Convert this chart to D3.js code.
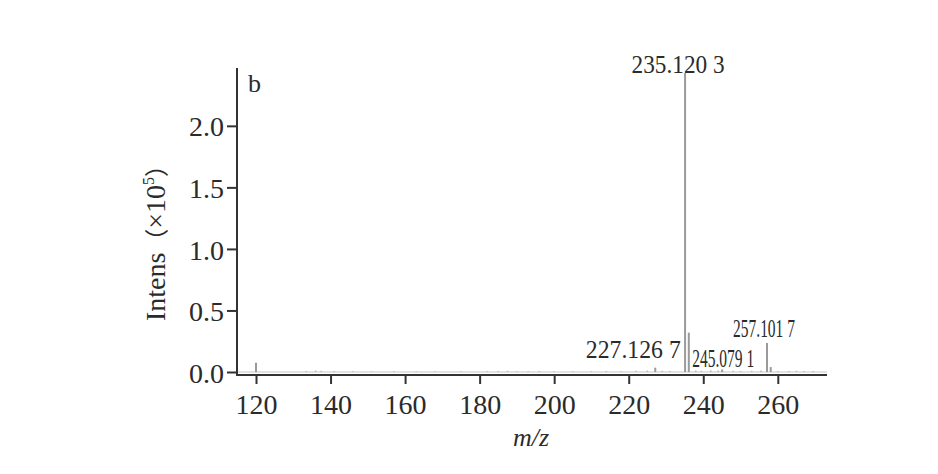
<!DOCTYPE html>
<html><head><meta charset="utf-8">
<script src="https://cdn.jsdelivr.net/npm/d3@7"></script>
<style>
body{margin:0;background:#fff;}
text{font-family:"Liberation Serif","Times New Roman",serif;fill:#2b2b2b;}
</style></head>
<body><svg id="c" width="938" height="474"></svg>
<script>
// data
const peakMz = [120.0, 227.1267, 235.1203, 236.12, 245.0791, 257.1017, 258.1];
const peakIntensity = [0.075, 0.035, 2.43, 0.32, 0.02, 0.235, 0.04];
const noiseMz = [133.5, 136, 137.5, 141, 146, 151, 157, 163, 168, 175, 182, 185, 187.5, 190, 193, 196, 200, 205, 210, 214, 218, 222, 225, 229, 231, 238, 239.5, 242, 244, 248, 250, 253, 255.5, 260, 263, 265, 267, 269.5];
const noiseIntensity = [0.008, 0.012, 0.01, 0.008, 0.006, 0.005, 0.006, 0.005, 0.006, 0.006, 0.007, 0.008, 0.01, 0.007, 0.006, 0.008, 0.006, 0.007, 0.006, 0.008, 0.006, 0.01, 0.012, 0.01, 0.008, 0.012, 0.01, 0.014, 0.012, 0.01, 0.008, 0.01, 0.012, 0.008, 0.008, 0.01, 0.008, 0.008];
const xTicks = [120, 140, 160, 180, 200, 220, 240, 260];
const yTicks = [0.0, 0.5, 1.0, 1.5, 2.0];
const peakLabels = ["227.126 7", "235.120 3", "245.079 1", "257.101 7"];
const labelMz = [227.1267, 235.1203, 245.0791, 257.1017];

const svg = d3.select("#c");
const x = d3.scaleLinear().domain([114.9, 273.2]).range([237, 827]);
const y = d3.scaleLinear().domain([0, 2.47]).range([372, 68]);
const axisY = 375;

// noise peaks
svg.append("line").attr("x1", 238).attr("x2", 827).attr("y1", y(0)).attr("y2", y(0))
  .attr("stroke", "#d8d8d8").attr("stroke-width", 1.5);
svg.selectAll("line.noise").data(noiseMz.map((m,i)=>[m,noiseIntensity[i]])).enter().append("line")
  .attr("class","noise").attr("x1", d=>x(d[0])).attr("x2", d=>x(d[0]))
  .attr("y1", y(0)).attr("y2", d=>y(d[1])).attr("stroke", "#b8b8b8").attr("stroke-width", 1.5);
// main peaks
svg.selectAll("line.peak").data(peakMz.map((m,i)=>[m,peakIntensity[i]])).enter().append("line")
  .attr("class","peak").attr("x1", d=>x(d[0])).attr("x2", d=>x(d[0]))
  .attr("y1", y(0)).attr("y2", d=>y(d[1])).attr("stroke", "#9a9a9a").attr("stroke-width", 2);

// axes
const xa = svg.append("g").attr("transform", `translate(0,${axisY})`)
  .call(d3.axisBottom(x).tickValues(xTicks).tickSize(9).tickPadding(10).tickFormat(d3.format("d")));
xa.select(".domain").attr("d", `M236,0H827`);
const ya = svg.append("g").attr("transform", `translate(237,0)`)
  .call(d3.axisLeft(y).tickValues(yTicks).tickSize(10).tickPadding(3).tickFormat(d3.format(".1f")));
ya.select(".domain").attr("d", `M0,68V${axisY+1}`);
svg.selectAll(".domain").attr("stroke", "#333").attr("stroke-width", 2);
svg.selectAll(".tick line").attr("stroke", "#333").attr("stroke-width", 2);
svg.selectAll(".tick text").attr("font-size", 28).style("font-family", '"Liberation Serif",serif').attr("fill", "#2b2b2b");
ya.selectAll(".tick text").attr("dy", "0.36em");

// peak labels
const lab = [
  {t: peakLabels[1], m: labelMz[1], dx: -7, yy: 73, sx: 0.93, fs: 25},
  {t: peakLabels[0], m: labelMz[0], dx: -22, yy: 358, sx: 0.95, fs: 25},
  {t: peakLabels[2], m: labelMz[2], dx: 1, yy: 367, sx: 0.62, fs: 25},
  {t: peakLabels[3], m: labelMz[3], dx: -3, yy: 337, sx: 0.62, fs: 25}
];
lab.forEach(l => {
  svg.append("text").attr("transform", `translate(${x(l.m)+l.dx},${l.yy}) scale(${l.sx},1)`)
    .attr("text-anchor", "middle").attr("font-size", l.fs).text(l.t);
});

// panel letter
svg.append("text").attr("x", 248).attr("y", 92).attr("font-size", 26).text("b");

// axis titles
svg.append("text").attr("x", 531).attr("y", 446).attr("text-anchor", "middle")
  .attr("font-size", 26).attr("font-style", "italic").text("m/z");
const yl = svg.append("text").attr("transform", "translate(165,237) rotate(-90)")
  .attr("text-anchor", "middle").attr("font-size", 28);
yl.append("tspan").text("Intens");
yl.append("tspan").style("font-family", '"Noto Sans CJK SC"').attr("font-size", 24).text("（");
yl.append("tspan").text("×10");
yl.append("tspan").attr("font-size", 16).attr("dy", -11).text("5");
yl.append("tspan").attr("dy", 11).style("font-family", '"Noto Sans CJK SC"').attr("font-size", 24).text("）");
</script></body></html>
